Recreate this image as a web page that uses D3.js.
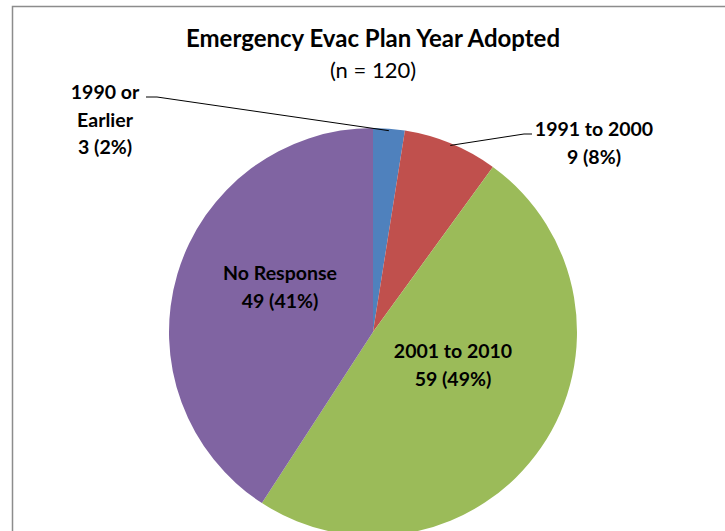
<!DOCTYPE html>
<html>
<head>
<meta charset="utf-8">
<script src="https://cdn.jsdelivr.net/npm/d3@7"></script>
<style>
  html, body { margin: 0; padding: 0; background: #fff; overflow: hidden; }
  svg { display: block; font-family: Lato, "Open Sans", sans-serif; }
  .lbl { font-weight: bold; font-size: 19.5px; fill: #000; }
</style>
</head>
<body>
<div id="chart"></div>
<script>
// data
const categories = ["1990 or Earlier", "1991 to 2000", "2001 to 2010", "No Response"];
const counts = [3, 9, 59, 49];
const percents = ["2%", "8%", "49%", "41%"];
const colors = ["#4F81BD", "#C0504D", "#9BBB59", "#8064A2"];
const labelLines = [
  ["1990 or", "Earlier"],
  ["1991 to 2000"],
  ["2001 to 2010"],
  ["No Response"]
];

const width = 725, height = 531;
const cx = 373, cy = 332, radius = 204;

const svg = d3.select("#chart").append("svg")
  .attr("width", width)
  .attr("height", height);

// chart frame
svg.append("rect")
  .attr("x", 12.5).attr("y", 6.5)
  .attr("width", 730).attr("height", 540)
  .attr("fill", "none")
  .attr("stroke", "#8c8c8c")
  .attr("stroke-width", 1.5);

// title
svg.append("text")
  .attr("x", cx).attr("y", 47)
  .attr("text-anchor", "middle")
  .style("font-weight", "bold").style("font-size", "24px")
  .text("Emergency Evac Plan Year Adopted");

svg.append("text")
  .attr("x", cx).attr("y", 78)
  .attr("text-anchor", "middle")
  .style("font-size", "22px")
  .text("(n = 120)");

const pie = d3.pie().sort(null).value(d => d.count);
const arc = d3.arc().innerRadius(0).outerRadius(radius);

const rows = categories.map((c, i) => ({
  name: c, count: counts[i], pct: percents[i], color: colors[i], lines: labelLines[i]
}));
const arcs = pie(rows);

const g = svg.append("g").attr("transform", `translate(${cx},${cy})`);

g.selectAll("path.slice")
  .data(arcs)
  .enter().append("path")
  .attr("class", "slice")
  .attr("d", arc)
  .attr("fill", d => d.data.color);

// label positions relative to the pie centre
const labelPos = [
  {x: -268, y: -233},
  {x: 221, y: -196},
  {x: 80, y: 26},
  {x: -93, y: -52}
];
const lineGap = 27.5;

// leader lines for the two small slices
const leaders = [
  {i: 0, end: [-227, -235], elbow: [-216, -235]},
  {i: 1, end: [159, -198], elbow: [151, -198]}
];
leaders.forEach(l => {
  const a = arcs[l.i];
  const mid = (a.startAngle + a.endAngle) / 2;
  const p = [Math.sin(mid) * radius * 0.99, -Math.cos(mid) * radius * 0.99];
  g.append("polyline")
    .attr("points", [l.end, l.elbow, p].map(q => q.join(",")).join(" "))
    .attr("fill", "none")
    .attr("stroke", "#000")
    .attr("stroke-width", 1);
});

arcs.forEach((a, i) => {
  const lp = labelPos[i];
  const lines = a.data.lines.concat([`${a.data.count} (${a.data.pct})`]);
  const t = g.append("text")
    .attr("class", "lbl")
    .attr("text-anchor", "middle");
  lines.forEach((s, k) => {
    t.append("tspan")
      .attr("x", lp.x)
      .attr("y", lp.y + k * lineGap)
      .text(s);
  });
});
</script>
</body>
</html>
